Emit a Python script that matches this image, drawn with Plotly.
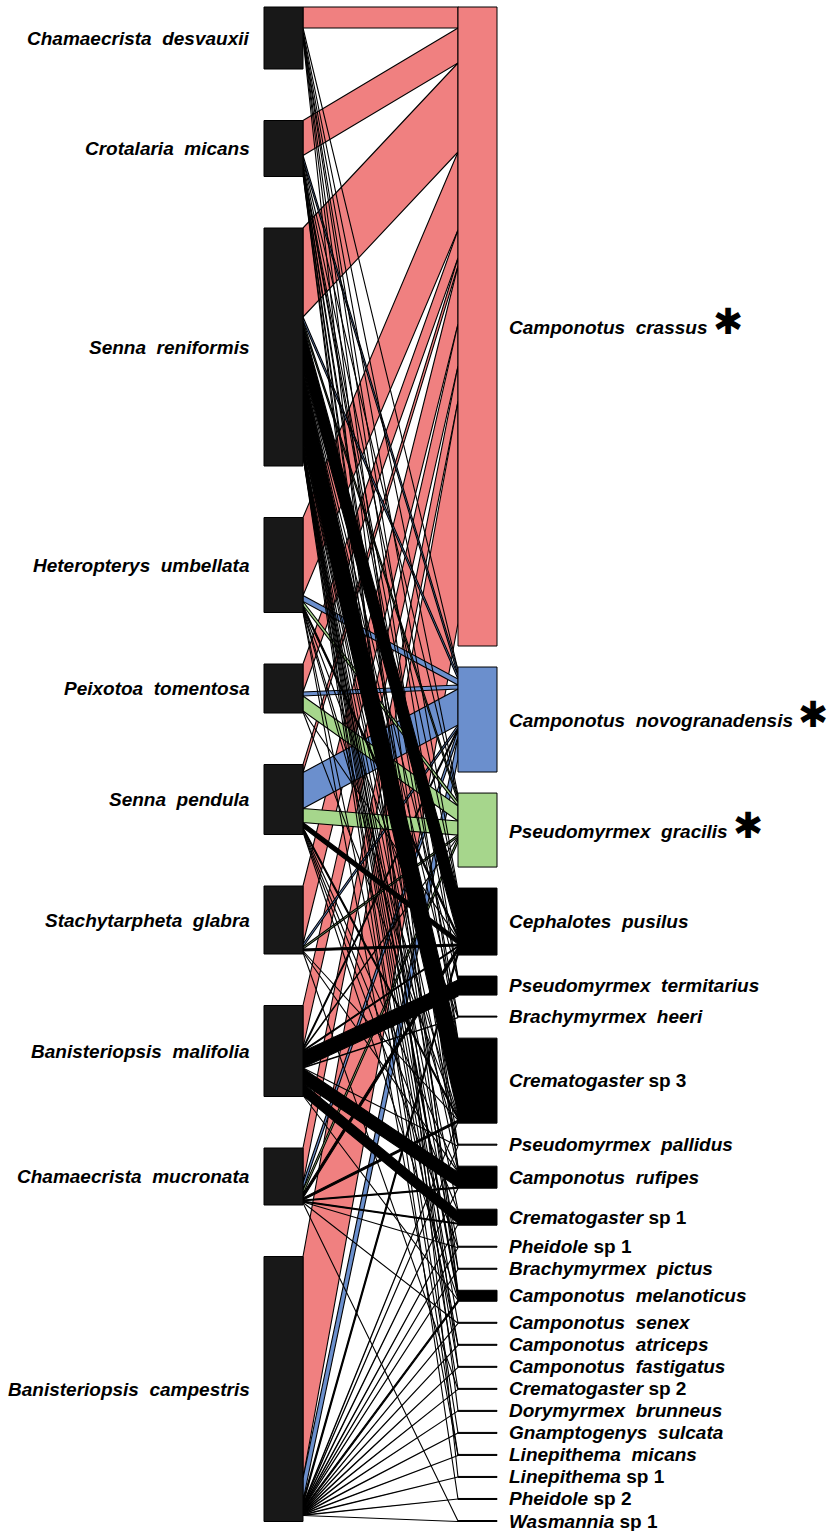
import plotly.graph_objects as go

# ---- species -------------------------------------------------------------
plants = [
    "Chamaecrista  desvauxii", "Crotalaria  micans", "Senna  reniformis",
    "Heteropterys  umbellata", "Peixotoa  tomentosa", "Senna  pendula",
    "Stachytarpheta  glabra", "Banisteriopsis  malifolia",
    "Chamaecrista  mucronata", "Banisteriopsis  campestris",
]
ants = [
    "Camponotus  crassus", "Camponotus  novogranadensis", "Pseudomyrmex  gracilis",
    "Cephalotes  pusilus", "Pseudomyrmex  termitarius", "Brachymyrmex  heeri",
    "Crematogaster| sp 3", "Pseudomyrmex  pallidus", "Camponotus  rufipes",
    "Crematogaster| sp 1", "Pheidole| sp 1", "Brachymyrmex  pictus",
    "Camponotus  melanoticus", "Camponotus  senex", "Camponotus  atriceps",
    "Camponotus  fastigatus", "Crematogaster| sp 2", "Dorymyrmex  brunneus",
    "Gnamptogenys  sulcata", "Linepithema  micans", "Linepithema| sp 1",
    "Pheidole| sp 2", "Wasmannia| sp 1",
]
starred = ["Camponotus  crassus", "Camponotus  novogranadensis", "Pseudomyrmex  gracilis"]

# abundances (box sizes)
plant_abun = [124, 112, 476, 190, 96, 140, 136, 182, 114, 530]
ant_abun = [1278, 210, 148, 134, 38, 2, 170, 2, 44, 32, 2, 2, 22,
            2, 2, 2, 2, 2, 2, 2, 2, 2, 2]

# interaction frequencies: rows = plants, columns = ants (same order as above)
web = [
    # crs nov gra cep ter hee cr3 pal ruf cr1 ph1 pic mel sen atr fas cr2 dor gna lmi ls1 ph2 was
    [42,  6,  4,  4,  2,  0,  2,  0,  1,  0,  0,  0,  2,  0,  0,  0,  0,  0,  0,  0,  1,  0,  0],
    [70, 10,  6,  6,  2,  1,  4,  1,  2,  0,  0,  1,  4,  0,  0,  1,  0,  1,  0,  0,  0,  0,  0],
    [178, 8,  8, 84,  4,  1, 146, 1,  6,  2,  1,  1, 10,  1,  1,  1,  1,  0,  1,  1,  0,  1,  0],
    [156, 12,  8,  6,  0,  1,  4,  1,  0,  0,  0,  0,  0,  0,  1,  0,  0,  0,  0,  1,  0,  0,  0],
    [56,  8, 30,  2,  0,  0,  2,  0,  0,  0,  0,  0,  0,  0,  0,  0,  0,  0,  0,  0,  0,  0,  0],
    [16, 72, 28, 10,  0,  0,  4,  0,  2,  2,  1,  0,  2,  0,  0,  0,  0,  0,  0,  0,  0,  0,  0],
    [116, 6,  4,  4,  0,  0,  2,  0,  1,  0,  0,  0,  0,  0,  0,  0,  1,  0,  0,  0,  0,  0,  0],
    [84,  4,  2,  2, 32,  1,  0,  1, 30, 24,  0,  0,  2,  0,  0,  0,  0,  0,  0,  0,  0,  0,  0],
    [70, 14,  8,  8,  0,  0,  4,  0,  2,  2,  1,  0,  0,  1,  0,  0,  0,  0,  0,  0,  0,  0,  1],
    [444, 44, 0,  8,  0,  0,  2,  1,  2,  2,  1,  1,  4,  1,  1,  1,  1,  1,  1,  1,  1,  1,  1],
]

# ---- styling ---------------------------------------------------------------
RED, BLUE, GREEN = "#F08080", "#6B8FCD", "#A6D68C"
ant_colors = {0: RED, 1: BLUE, 2: GREEN}
PLANT_FILL = "#181818"
X_LOW = (264, 303)
X_HIGH = (458, 497)
TOP = 14
LOW_GAP = 103
FONT = "Liberation Sans, Arial, sans-serif"
FS = 19

n_p, n_a = len(plants), len(ants)
row_sum = [sum(r) for r in web]
p_size = [max(a, s) for a, s in zip(plant_abun, row_sum)]
a_size = list(ant_abun)

span = sum(p_size) + LOW_GAP * (n_p - 1)
high_gap = (span - sum(a_size)) / (n_a - 1)

p_top, y = [], TOP
for s in p_size:
    p_top.append(y)
    y += s + LOW_GAP
a_top, y = [], TOP
for s in a_size:
    a_top.append(y)
    y += s + high_gap

# band end points, stacked from the top of each box
p_cur = list(p_top)
a_cur = list(a_top)
bands = {}
for i in range(n_p):
    for j in range(n_a):
        w = web[i][j]
        if w <= 0:
            continue
        bands[(i, j)] = (p_cur[i], p_cur[i] + w, a_cur[j], a_cur[j] + w)
        p_cur[i] += w
        a_cur[j] += w

fig = go.Figure()
# drawn ant by ant, so later partners sit on top of earlier ones
for j in range(n_a):
    for i in range(n_p):
        if (i, j) not in bands:
            continue
        y1, y2, y3, y4 = bands[(i, j)]
        fig.add_trace(go.Scatter(
            x=[X_LOW[1], X_HIGH[0], X_HIGH[0], X_LOW[1], X_LOW[1]],
            y=[y1, y3, y4, y2, y1],
            mode="lines", fill="toself",
            fillcolor=ant_colors.get(j, "#000000"),
            line=dict(color="#000000", width=1.1),
            hoverinfo="skip", showlegend=False,
        ))

shapes = []
for i in range(n_p):
    shapes.append(dict(type="rect", xref="x", yref="y",
                       x0=X_LOW[0], x1=X_LOW[1], y0=p_top[i], y1=p_top[i] + p_size[i],
                       fillcolor=PLANT_FILL, line=dict(color="#000000", width=1)))
for j in range(n_a):
    shapes.append(dict(type="rect", xref="x", yref="y",
                       x0=X_HIGH[0], x1=X_HIGH[1], y0=a_top[j], y1=a_top[j] + a_size[j],
                       fillcolor=ant_colors.get(j, "#000000"),
                       line=dict(color="#000000", width=1)))


def fmt(name):
    if "|" in name:
        genus, rest = name.split("|")
        return f"<b><i>{genus}</i>\u00a0{rest.strip()}</b>"
    g, s = name.split("  ")
    return f"<b><i>{g}\u00a0\u00a0{s}</i></b>"


annotations = []
for i, name in enumerate(plants):
    annotations.append(dict(x=252, y=p_top[i] + p_size[i] / 2, xref="x", yref="y",
                            text=fmt(name), showarrow=False, xanchor="right",
                            yanchor="middle", font=dict(family=FONT, size=FS, color="#000")))
for j, name in enumerate(ants):
    label = fmt(name)
    shift = 0
    if name in starred:
        label += "\u00a0<span style='font-size:36px'>\u2731</span>"
        shift = 5
    annotations.append(dict(x=507, y=a_top[j] + a_size[j] / 2, xref="x", yref="y",
                            text=label, showarrow=False, xanchor="left", yshift=shift,
                            yanchor="middle", font=dict(family=FONT, size=FS, color="#000")))

fig.update_layout(
    width=829, height=1531,
    margin=dict(l=0, r=0, t=0, b=0),
    paper_bgcolor="white", plot_bgcolor="white",
    xaxis=dict(range=[0, 829], visible=False, fixedrange=True),
    yaxis=dict(range=[3062, 0], visible=False, fixedrange=True),
    shapes=shapes, annotations=annotations,
)
fig.write_html("out.html")
